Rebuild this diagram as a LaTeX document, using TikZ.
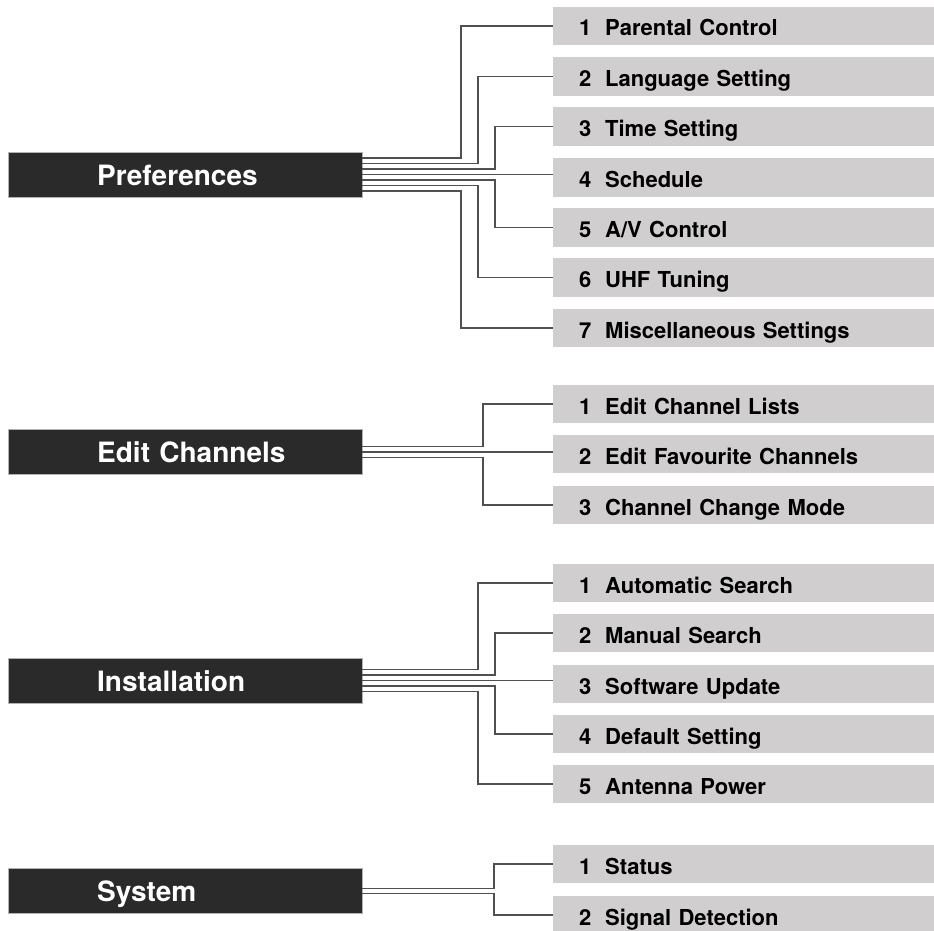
\documentclass[tikz,border=0pt]{standalone}
\usepackage{fontspec}
\setmainfont{TeX Gyre Heros}
\definecolor{darkbox}{RGB}{42,42,42}
\definecolor{graybox}{RGB}{208,206,206}
\definecolor{wire}{RGB}{80,80,80}
\begin{document}
\begin{tikzpicture}[x=1pt,y=-1pt,
  head/.style={fill=darkbox,draw=gray!60,line width=0.4pt,anchor=west,minimum height=45pt,
    text width=354pt,inner xsep=0pt,inner ysep=0pt,align=left,text=white,
    font=\fontsize{28}{30}\selectfont\bfseries,text height=21pt,text depth=0pt},
  item/.style={fill=graybox,anchor=west,minimum height=38.5pt,text width=329pt,
    inner xsep=26pt,inner ysep=0pt,align=left,text=black,
    font=\fontsize{22}{24}\selectfont\bfseries,text height=20pt,text depth=0pt},
  wireline/.style={draw=wire,line width=1.3pt}]
\useasboundingbox (0,0) rectangle (934,931);
\newcommand{\itm}[2]{\makebox[26pt][l]{#1}#2}
% Preferences
\node[head] (P) at (8,174.5) {\hspace*{89pt}Preferences};
\node[item] (p1) at (553,26) {\itm{1}{Parental Control}};
\node[item] (p2) at (553,76.5) {\itm{2}{Language Setting}};
\node[item] (p3) at (553,126.5) {\itm{3}{Time Setting}};
\node[item] (p4) at (553,177.5) {\itm{4}{Schedule}};
\node[item] (p5) at (553,227.5) {\itm{5}{A/V Control}};
\node[item] (p6) at (553,277.5) {\itm{6}{UHF Tuning}};
\node[item] (p7) at (553,328) {\itm{7}{Miscellaneous Settings}};
\draw[wireline] ([yshift=16.5pt]P.east) -| ([xshift=-92pt]p1.west) -- (p1.west);
\draw[wireline] ([yshift=11pt]P.east) -| ([xshift=-75pt]p2.west) -- (p2.west);
\draw[wireline] ([yshift=5.5pt]P.east) -| ([xshift=-58pt]p3.west) -- (p3.west);
\draw[wireline] (P.east) -- (P.east -| p4.west);
\draw[wireline] ([yshift=-5.5pt]P.east) -| ([xshift=-58pt]p5.west) -- (p5.west);
\draw[wireline] ([yshift=-11pt]P.east) -| ([xshift=-75pt]p6.west) -- (p6.west);
\draw[wireline] ([yshift=-16.5pt]P.east) -| ([xshift=-92pt]p7.west) -- (p7.west);
% Edit Channels
\node[head] (E) at (8,452) {\hspace*{89pt}Edit Channels};
\node[item] (e1) at (553,404) {\itm{1}{Edit Channel Lists}};
\node[item] (e2) at (553,454) {\itm{2}{Edit Favourite Channels}};
\node[item] (e3) at (553,505) {\itm{3}{Channel Change Mode}};
\draw[wireline] ([yshift=5.5pt]E.east) -| ([xshift=-70pt]e1.west) -- (e1.west);
\draw[wireline] (E.east) -- (E.east -| e2.west);
\draw[wireline] ([yshift=-5.5pt]E.east) -| ([xshift=-70pt]e3.west) -- (e3.west);
% Installation
\node[head] (I) at (8,680.5) {\hspace*{89pt}Installation};
\node[item] (i1) at (553,583) {\itm{1}{Automatic Search}};
\node[item] (i2) at (553,633) {\itm{2}{Manual Search}};
\node[item] (i3) at (553,684) {\itm{3}{Software Update}};
\node[item] (i4) at (553,734) {\itm{4}{Default Setting}};
\node[item] (i5) at (553,784) {\itm{5}{Antenna Power}};
\draw[wireline] ([yshift=11pt]I.east) -| ([xshift=-75pt]i1.west) -- (i1.west);
\draw[wireline] ([yshift=5.5pt]I.east) -| ([xshift=-58pt]i2.west) -- (i2.west);
\draw[wireline] (I.east) -- (I.east -| i3.west);
\draw[wireline] ([yshift=-5.5pt]I.east) -| ([xshift=-58pt]i4.west) -- (i4.west);
\draw[wireline] ([yshift=-11pt]I.east) -| ([xshift=-75pt]i5.west) -- (i5.west);
% System
\node[head] (S) at (8,891) {\hspace*{89pt}System};
\node[item] (s1) at (553,864) {\itm{1}{Status}};
\node[item] (s2) at (553,915) {\itm{2}{Signal Detection}};
\draw[wireline] ([yshift=2.75pt]S.east) -| ([xshift=-59pt]s1.west) -- (s1.west);
\draw[wireline] ([yshift=-2.75pt]S.east) -| ([xshift=-59pt]s2.west) -- (s2.west);
\end{tikzpicture}
\end{document}
